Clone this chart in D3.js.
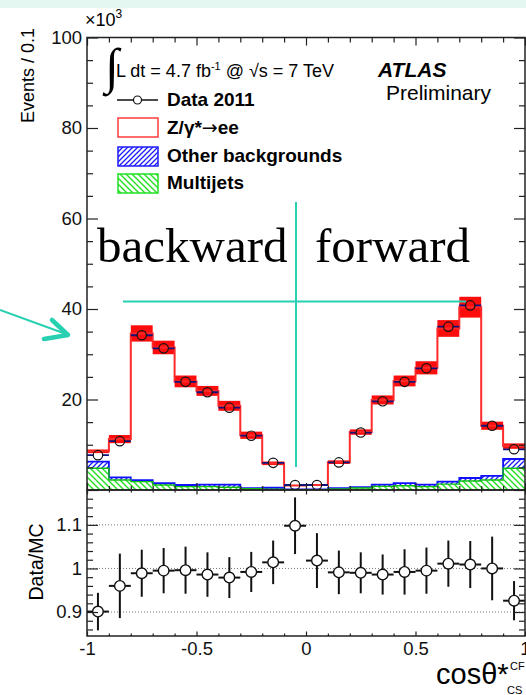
<!DOCTYPE html>
<html>
<head>
<meta charset="utf-8">
<script src="https://cdnjs.cloudflare.com/ajax/libs/d3/7.8.5/d3.min.js"></script>
<style>
	body { margin:0; background:#fff; }
	svg { display:block; font-family:"Liberation Sans", Arial, Helvetica, sans-serif; }
	.axis .domain { display:none; }
	.axis line { stroke:#222; stroke-width:1.2px; }
	.axis text { font-size:18.5px; fill:#111; font-family:"Liberation Sans", Arial, sans-serif; }
</style>
</head>
<body>
<svg id="chart"></svg>
<script>
	// cos theta* bins (lower edges), width 0.1
	var binLow = [-1.0,-0.9,-0.8,-0.7,-0.6,-0.5,-0.4,-0.3,-0.2,-0.1,0.0,0.1,0.2,0.3,0.4,0.5,0.6,0.7,0.8,0.9];
	var binWidth = 0.1;

	// events per bin, x10^3
	var dataEvents = [7.7,10.8,34.2,31.3,23.9,21.6,18.2,12.0,6.0,1.1,1.1,6.1,12.7,19.6,23.9,26.9,36.1,40.8,14.2,9.0];
	var mcTotal    = [8.55,11.25,34.6,31.5,24.0,21.9,18.6,12.1,5.9,1.0,1.08,6.15,12.8,19.9,24.1,27.0,35.7,40.4,14.2,9.7];
	var mcBand     = [0.4,0.9,1.8,1.5,1.3,1.1,1.1,0.8,0.4,0.1,0.1,0.4,0.6,1.0,1.2,1.45,1.85,2.3,0.9,0.6];
	var multijets  = [4.8,2.2,1.85,1.1,0.75,0.75,0.6,0.3,0.2,0.08,0.08,0.25,0.45,0.8,0.95,0.75,1.3,2.0,2.2,4.8];
	var otherBkg   = [1.45,0.6,0.35,0.4,0.35,0.45,0.6,0.1,0.3,0.05,0.05,0.15,0.2,0.4,0.55,0.45,0.55,0.65,0.9,2.05];

	// data / MC
	var ratio    = [0.901,0.960,0.989,0.995,0.996,0.986,0.979,0.992,1.014,1.098,1.018,0.991,0.990,0.986,0.992,0.995,1.011,1.009,1.000,0.926];
	var ratioErr = [0.043,0.074,0.054,0.052,0.054,0.051,0.047,0.046,0.050,0.065,0.063,0.050,0.047,0.046,0.052,0.053,0.053,0.054,0.073,0.045];

	var yMajor = [0,20,40,60,80,100];
	var yMinor = [5,10,15,25,30,35,45,50,55,65,70,75,85,90,95];
	var rMajor = [0.9,1,1.1];
	var rMinor = [0.86,0.88,0.92,0.94,0.96,0.98,1.02,1.04,1.06,1.08,1.12,1.14,1.16];
	var xMajor = [-1,-0.5,0,0.5,1];
	var xMinor = [-0.9,-0.8,-0.7,-0.6,-0.4,-0.3,-0.2,-0.1,0.1,0.2,0.3,0.4,0.6,0.7,0.8,0.9];

	var svgWidth = 526, svgHeight = 695;
	var padL = 87, padR = 525, padT = 37.5, padMid = 490, padB = 636;
	var cyan = "#26d0b0";

	var svg = d3.select("svg#chart")
		.attr("width", svgWidth)
		.attr("height", svgHeight);

	svg.append("rect")
		.attr("x", 0).attr("y", 0)
		.attr("width", svgWidth).attr("height", 8)
		.attr("fill", "#e4f7f1");

	var x = d3.scaleLinear().domain([-1, 1]).range([padL, padR]);
	var y = d3.scaleLinear().domain([0, 100]).range([padMid, padT]);
	var yr = d3.scaleLinear().domain([0.845, 1.18]).range([padB, padMid]);

	var bins = binLow.map(function(lo, i) {
		return {
			lo: lo, hi: lo + binWidth, mid: lo + binWidth / 2,
			data: dataEvents[i], mc: mcTotal[i], band: mcBand[i],
			mj: multijets[i], bkg: multijets[i] + otherBkg[i],
			ratio: ratio[i], err: ratioErr[i]
		};
	});

	// hatch patterns
	var defs = svg.append("defs");
	defs.append("pattern")
		.attr("id", "hatchBlue")
		.attr("patternUnits", "userSpaceOnUse")
		.attr("width", 5).attr("height", 5)
	  .append("path")
		.attr("d", "M-1,6 L6,-1 M-1,1 L1,-1 M4,6 L6,4")
		.attr("stroke", "#1a1aff").attr("stroke-width", 1.3);
	defs.append("pattern")
		.attr("id", "hatchGreen")
		.attr("patternUnits", "userSpaceOnUse")
		.attr("width", 6).attr("height", 6)
	  .append("path")
		.attr("d", "M-1,-1 L7,7 M5,-1 L7,1 M-1,5 L1,7")
		.attr("stroke", "#22e022").attr("stroke-width", 1.4);
	defs.append("clipPath").attr("id", "clipMain")
	  .append("rect").attr("x", padL).attr("y", padT).attr("width", padR - padL).attr("height", padMid - padT);
	defs.append("clipPath").attr("id", "clipRatio")
	  .append("rect").attr("x", padL).attr("y", padMid).attr("width", padR - padL).attr("height", padB - padMid);

	function stepLine(key) {
		var pts = [];
		bins.forEach(function(d) {
			pts.push([x(d.lo), y(d[key])]);
			pts.push([x(d.hi), y(d[key])]);
		});
		return d3.line()(pts);
	}

	var main = svg.append("g").attr("clip-path", "url(#clipMain)");

	// stacked backgrounds
	main.selectAll("rect.mj")
		.data(bins)
	  .enter().append("rect")
		.attr("class", "mj")
		.attr("x", function(d) { return x(d.lo); })
		.attr("width", function(d) { return x(d.hi) - x(d.lo); })
		.attr("y", function(d) { return y(d.mj); })
		.attr("height", function(d) { return y(0) - y(d.mj); })
		.attr("fill", "url(#hatchGreen)");

	main.selectAll("rect.other")
		.data(bins)
	  .enter().append("rect")
		.attr("class", "other")
		.attr("x", function(d) { return x(d.lo); })
		.attr("width", function(d) { return x(d.hi) - x(d.lo); })
		.attr("y", function(d) { return y(d.bkg); })
		.attr("height", function(d) { return y(d.mj) - y(d.bkg); })
		.attr("fill", "url(#hatchBlue)");

	main.append("path")
		.attr("d", stepLine("bkg"))
		.attr("fill", "none").attr("stroke", "#1010ff").attr("stroke-width", 1.8);
	main.append("path")
		.attr("d", stepLine("mj"))
		.attr("fill", "none").attr("stroke", "#10c010").attr("stroke-width", 1.4);

	// MC uncertainty band and Z/gamma* total
	main.selectAll("rect.band")
		.data(bins)
	  .enter().append("rect")
		.attr("class", "band")
		.attr("x", function(d) { return x(d.lo); })
		.attr("width", function(d) { return x(d.hi) - x(d.lo); })
		.attr("y", function(d) { return y(d.mc + d.band); })
		.attr("height", function(d) { return y(d.mc - d.band) - y(d.mc + d.band); })
		.attr("fill", "#ff0d0d");

	main.append("path")
		.attr("d", stepLine("mc"))
		.attr("fill", "none").attr("stroke", "#ff2a2a").attr("stroke-width", 2);

	// data points
	var pr = 4.7;
	main.selectAll("path.xerr")
		.data(bins)
	  .enter().append("path")
		.attr("class", "xerr")
		.attr("d", function(d) {
			var cy = y(d.data), cx = x(d.mid);
			return "M" + x(d.lo) + "," + cy + "H" + (cx - pr) + "M" + (cx + pr) + "," + cy + "H" + x(d.hi);
		})
		.attr("stroke", "#12127a").attr("stroke-width", 1.8).attr("fill", "none");

	main.selectAll("circle.data")
		.data(bins)
	  .enter().append("circle")
		.attr("class", "data")
		.attr("cx", function(d) { return x(d.mid); })
		.attr("cy", function(d) { return y(d.data); })
		.attr("r", pr)
		.attr("fill", "none").attr("stroke", "#111").attr("stroke-width", 1.2);

	// ratio panel
	var rp = svg.append("g").attr("clip-path", "url(#clipRatio)");

	rp.selectAll("line.grid")
		.data(rMajor)
	  .enter().append("line")
		.attr("class", "grid")
		.attr("x1", padL).attr("x2", padR)
		.attr("y1", function(d) { return yr(d); })
		.attr("y2", function(d) { return yr(d); })
		.attr("stroke", "#777").attr("stroke-width", 1)
		.attr("stroke-dasharray", "1,2");

	rp.selectAll("line.rx")
		.data(bins)
	  .enter().append("line")
		.attr("class", "rx")
		.attr("x1", function(d) { return x(d.lo); })
		.attr("x2", function(d) { return x(d.hi); })
		.attr("y1", function(d) { return yr(d.ratio); })
		.attr("y2", function(d) { return yr(d.ratio); })
		.attr("stroke", "#111").attr("stroke-width", 2);

	rp.selectAll("line.ry")
		.data(bins)
	  .enter().append("line")
		.attr("class", "ry")
		.attr("x1", function(d) { return x(d.mid); })
		.attr("x2", function(d) { return x(d.mid); })
		.attr("y1", function(d) { return yr(d.ratio + d.err); })
		.attr("y2", function(d) { return yr(d.ratio - d.err); })
		.attr("stroke", "#111").attr("stroke-width", 2);

	rp.selectAll("circle.ratio")
		.data(bins)
	  .enter().append("circle")
		.attr("class", "ratio")
		.attr("cx", function(d) { return x(d.mid); })
		.attr("cy", function(d) { return yr(d.ratio); })
		.attr("r", 5.3)
		.attr("fill", "#fff").attr("stroke", "#111").attr("stroke-width", 1.4);

	// axes
	function addAxis(axis, tx, ty) {
		return svg.append("g")
			.attr("class", "axis")
			.attr("transform", "translate(" + tx + "," + ty + ")")
			.call(axis);
	}
	var noLabel = function() { return ""; };

	addAxis(d3.axisLeft(y).tickValues(yMajor).tickSize(-11).tickPadding(5)
		.tickFormat(function(d) { return d === 0 ? "" : d; }), padL, 0);
	addAxis(d3.axisLeft(y).tickValues(yMinor).tickSize(-6).tickFormat(noLabel), padL, 0);
	addAxis(d3.axisRight(y).tickValues(yMajor).tickSize(-11).tickFormat(noLabel), padR, 0);
	addAxis(d3.axisRight(y).tickValues(yMinor).tickSize(-6).tickFormat(noLabel), padR, 0);
	addAxis(d3.axisBottom(x).tickValues(xMajor).tickSize(-7).tickFormat(noLabel), 0, padMid);
	addAxis(d3.axisBottom(x).tickValues(xMinor).tickSize(-4).tickFormat(noLabel), 0, padMid);
	addAxis(d3.axisTop(x).tickValues(xMajor).tickSize(-8).tickFormat(noLabel), 0, padT);
	addAxis(d3.axisTop(x).tickValues(xMinor).tickSize(-5).tickFormat(noLabel), 0, padT);

	addAxis(d3.axisLeft(yr).tickValues(rMajor).tickSize(-11).tickPadding(5).tickFormat(function(d) { return String(d); }), padL, 0);
	addAxis(d3.axisLeft(yr).tickValues(rMinor).tickSize(-6).tickFormat(noLabel), padL, 0);
	addAxis(d3.axisRight(yr).tickValues(rMajor).tickSize(-11).tickFormat(noLabel), padR, 0);
	addAxis(d3.axisRight(yr).tickValues(rMinor).tickSize(-6).tickFormat(noLabel), padR, 0);
	addAxis(d3.axisBottom(x).tickValues(xMajor).tickSize(-4.5).tickPadding(6).tickFormat(function(d) { return String(d); }), 0, padB);
	addAxis(d3.axisBottom(x).tickValues(xMinor).tickSize(-2.5).tickFormat(noLabel), 0, padB);
	addAxis(d3.axisTop(x).tickValues(xMajor).tickSize(-4.5).tickFormat(noLabel), 0, padMid);
	addAxis(d3.axisTop(x).tickValues(xMinor).tickSize(-2.5).tickFormat(noLabel), 0, padMid);

	// frames
	svg.append("rect")
		.attr("x", padL).attr("y", padT)
		.attr("width", padR - padL).attr("height", padMid - padT)
		.attr("fill", "none").attr("stroke", "#222").attr("stroke-width", 1.5);
	svg.append("rect")
		.attr("x", padL).attr("y", padMid)
		.attr("width", padR - padL).attr("height", padB - padMid)
		.attr("fill", "none").attr("stroke", "#222").attr("stroke-width", 1.5);

	// axis titles
	svg.append("text")
		.attr("transform", "translate(34,28) rotate(-90)")
		.attr("text-anchor", "end")
		.style("font-size", "18px")
		.text("Events / 0.1");

	var x10 = svg.append("text")
		.attr("x", 85).attr("y", 26)
		.style("font-size", "18px");
	x10.append("tspan").text("×10");
	x10.append("tspan").attr("dy", -8).style("font-size", "12px").text("3");

	svg.append("text")
		.attr("transform", "translate(43,562) rotate(-90)")
		.attr("text-anchor", "middle")
		.style("font-size", "19.5px")
		.text("Data/MC");

	var xt = svg.append("text")
		.attr("x", 436).attr("y", 684)
		.style("font-size", "29px");
	xt.append("tspan").text("cosθ*");
	xt.append("tspan").attr("x", 510).attr("dy", -14).style("font-size", "11px").text("CF");
	xt.append("tspan").attr("x", 507).attr("dy", 24).style("font-size", "11px").text("CS");

	// luminosity + ATLAS label
	svg.append("text")
		.attr("x", 105).attr("y", 83)
		.style("font-family", "'Liberation Serif', serif")
		.style("font-size", "50px")
		.text("∫");
	var lumi = svg.append("text")
		.attr("x", 116).attr("y", 77)
		.style("font-size", "18px");
	lumi.append("tspan").text("L dt = 4.7 fb");
	lumi.append("tspan").attr("dy", -7).style("font-size", "11px").text("-1");
	lumi.append("tspan").attr("dy", 7).text(" @ √s = 7 TeV");

	svg.append("text")
		.attr("x", 378).attr("y", 77)
		.style("font-size", "21px").style("font-weight", "bold").style("font-style", "italic")
		.text("ATLAS");
	svg.append("text")
		.attr("x", 386).attr("y", 100)
		.style("font-size", "21px")
		.text("Preliminary");

	// legend
	var legend = svg.append("g");
	legend.append("line")
		.attr("x1", 117).attr("x2", 158).attr("y1", 100).attr("y2", 100)
		.attr("stroke", "#111").attr("stroke-width", 1.3);
	legend.append("circle")
		.attr("cx", 137.5).attr("cy", 100).attr("r", 4)
		.attr("fill", "#fff").attr("stroke", "#111").attr("stroke-width", 1.2);

	var legendBoxes = [
		{y: 118, fill: "#fff", stroke: "#ff3a3a"},
		{y: 147, fill: "url(#hatchBlue)", stroke: "#1a1aff"},
		{y: 174, fill: "url(#hatchGreen)", stroke: "#22e022"}
	];
	legend.selectAll("rect.lbox")
		.data(legendBoxes)
	  .enter().append("rect")
		.attr("class", "lbox")
		.attr("x", 118).attr("width", 40)
		.attr("y", function(d) { return d.y; }).attr("height", 19)
		.attr("fill", function(d) { return d.fill; })
		.attr("stroke", function(d) { return d.stroke; })
		.attr("stroke-width", 1.5);

	var legendLabels = [
		{y: 106, t: "Data 2011"},
		{y: 134, t: "Z/γ*"},
		{y: 162, t: "Other backgrounds"},
		{y: 189, t: "Multijets"}
	];
	var lt = legend.selectAll("text")
		.data(legendLabels)
	  .enter().append("text")
		.attr("x", 167)
		.attr("y", function(d) { return d.y; })
		.style("font-size", "19px").style("font-weight", "bold")
		.text(function(d) { return d.t; });
	lt.filter(function(d, i) { return i === 1; })
	  .append("tspan")
		.style("font-family", "'DejaVu Sans', sans-serif").style("font-weight", "normal")
		.text("→");
	lt.filter(function(d, i) { return i === 1; })
	  .append("tspan")
		.text("ee");

	// annotations
	svg.append("text")
		.attr("x", 97).attr("y", 262)
		.style("font-family", "'Liberation Serif', 'Times New Roman', serif")
		.style("font-size", "49px")
		.text("backward");
	svg.append("text")
		.attr("x", 315).attr("y", 262)
		.style("font-family", "'Liberation Serif', 'Times New Roman', serif")
		.style("font-size", "49px")
		.text("forward");

	svg.append("line")
		.attr("x1", 296).attr("x2", 296).attr("y1", 202).attr("y2", 467)
		.attr("stroke", cyan).attr("stroke-width", 2);
	svg.append("line")
		.attr("x1", 123).attr("x2", 466).attr("y1", 301.5).attr("y2", 301.5)
		.attr("stroke", cyan).attr("stroke-width", 2);

	svg.append("line")
		.attr("x1", 0).attr("y1", 310).attr("x2", 66).attr("y2", 334)
		.attr("stroke", cyan).attr("stroke-width", 2);
	svg.append("path")
		.attr("d", "M52,320 L68,335 L44,339")
		.attr("fill", "none").attr("stroke", cyan).attr("stroke-width", 4.5)
		.attr("stroke-linecap", "round").attr("stroke-linejoin", "round");
</script>
</body>
</html>
